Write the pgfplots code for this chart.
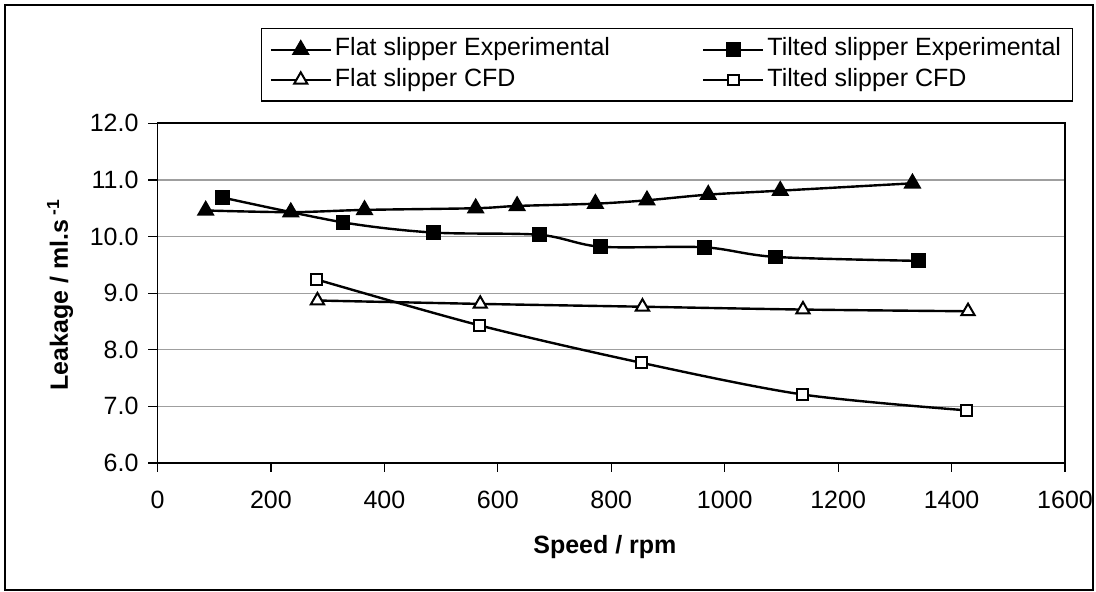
\documentclass[border=0pt]{standalone}
\usepackage{pgfplots}
\pgfplotsset{compat=1.18}
\usepackage{fontspec}
\setmainfont{Liberation Sans}
\begin{document}
\begin{tikzpicture}[x=1pt,y=1pt]
\useasboundingbox (0,0) rectangle (548,296);
\draw[line width=0.7pt] (2.5,1) rectangle (546.5,293.5);
\begin{axis}[
  at={(78.75pt,64.5pt)}, anchor=south west,
  scale only axis, width=453.75pt, height=169.85pt,
  xmin=0, xmax=1600, ymin=6, ymax=12,
  xtick={0,200,...,1600}, ytick={6,7,...,12},
  tick pos=left, tick align=outside, major tick length=4.5pt,
  tick style={black, line width=0.6pt},
  axis line style={black, line width=0.8pt},
  ymajorgrids, grid style={gray!75, line width=0.6pt},
  /pgf/number format/assume math mode=true,
  xticklabel style={font=\fontsize{12.5}{14}\selectfont, yshift=-6pt, /pgf/number format/1000 sep={}},
  yticklabel style={font=\fontsize{12.5}{14}\selectfont, xshift=-1.5pt, /pgf/number format/.cd, fixed, fixed zerofill, precision=1},
  xlabel={\textbf{Speed / rpm}},
  ylabel={\textbf{Leakage / ml.s\,\textsuperscript{-1}}},
  xlabel style={font=\fontsize{12.5}{14}\selectfont, at={(axis description cs:0.493,-0.265)}, anchor=base},
  ylabel style={font=\fontsize{12.5}{14}\selectfont, at={(axis description cs:-0.1074,0.4946)}, anchor=center},
  legend columns=2,
  legend cell align=left,
  legend image code/.code={\draw[mark repeat=2,mark phase=2] plot coordinates {(0pt,0pt) (15pt,0pt) (30pt,0pt)};},
  legend style={at={(axis description cs:0.114,1.2805)}, anchor=north west,
    draw=black, line width=0.6pt, fill=white,
    font=\fontsize{12.5}{14}\selectfont,
    inner xsep=4pt, inner ysep=3pt, row sep=0pt,
    nodes={inner sep=1.5pt, text height=9.1pt, text depth=3pt},
    /tikz/every even column/.append style={column sep=44.5pt}},
]
\addplot[black, line width=1.2pt, smooth, mark=triangle*, mark size=4pt, mark options={fill=black, solid}]
coordinates {(85,10.46) (235,10.43) (365,10.47) (561,10.50) (634,10.54) (772,10.58) (863,10.64) (971,10.74) (1098,10.81) (1331,10.94)};
\addlegendentry{Flat slipper Experimental}
\addplot[black, line width=1.2pt, smooth, mark=square*, mark size=3.1pt, mark options={fill=black, solid}]
coordinates {(114,10.69) (327,10.25) (486,10.07) (674,10.03) (781,9.82) (964,9.81) (1089,9.64) (1342,9.57)};
\addlegendentry{Tilted slipper Experimental}
\addplot[black, line width=1.2pt, smooth, mark=triangle*, mark size=3.8pt, mark options={fill=white, solid, line width=1pt}]
coordinates {(282,8.87) (569,8.81) (855,8.76) (1138,8.71) (1429,8.68)};
\addlegendentry{Flat slipper CFD}
\addplot[black, line width=1.2pt, smooth, mark=square*, mark size=2.7pt, mark options={fill=white, solid, line width=1pt}]
coordinates {(281,9.24) (568,8.43) (853,7.77) (1137,7.21) (1426,6.93)};
\addlegendentry{Tilted slipper CFD}
\end{axis}
\end{tikzpicture}
\end{document}
